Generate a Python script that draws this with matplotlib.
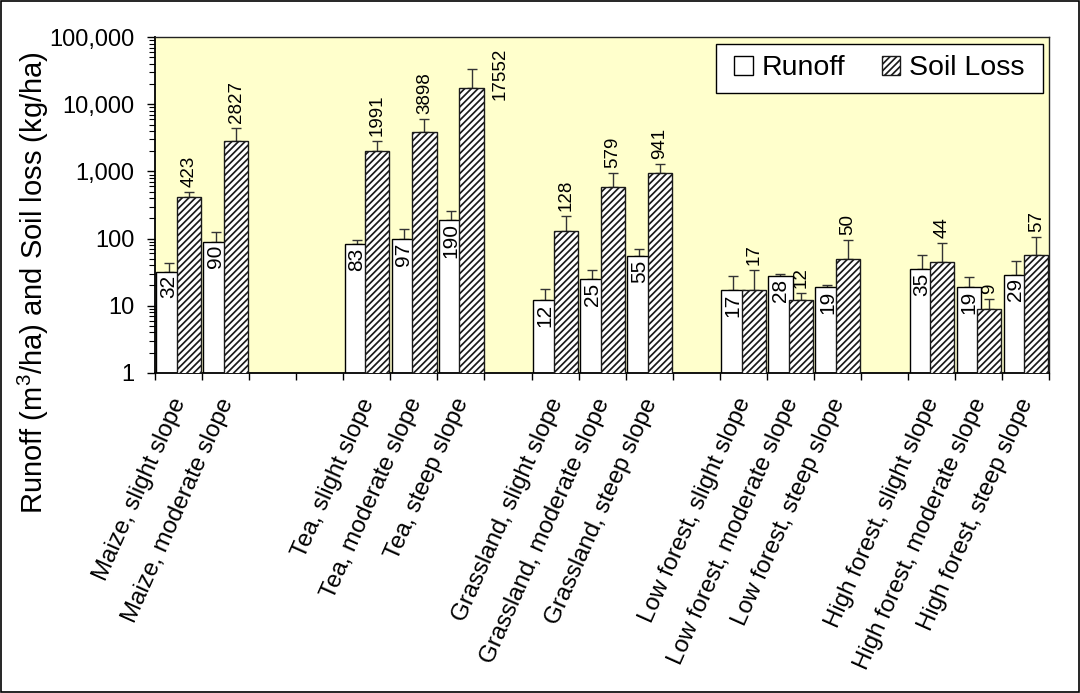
import matplotlib
matplotlib.use("Agg")
import matplotlib.pyplot as plt
import matplotlib.transforms as mtransforms
from matplotlib.patches import Patch, Rectangle
from matplotlib.ticker import FixedLocator, FuncFormatter, LogLocator, NullFormatter

plt.rcParams['font.family'] = ['Liberation Sans', 'DejaVu Sans']
plt.rcParams['mathtext.default'] = 'regular'
plt.rcParams['hatch.linewidth'] = 1.25

# ---------------- data ----------------
land_uses = ["Maize", "Tea", "Grassland", "Low forest", "High forest"]
slopes = ["slight slope", "moderate slope", "steep slope"]

# ordered land use x slope (None = not measured)
runoff = [32, 90, None, 83, 97, 190, 12, 25, 55, 17, 28, 19, 35, 19, 29]
runoff_err = [11, 36, None, 11, 42, 65, 5.5, 8.6, 16, 11, 1.8, 1.2, 21, 8, 18]
soil_loss = [423, 2827, None, 1991, 3898, 17552, 128, 579, 941, 17, 12, 50, 44, 9, 57]
soil_err = [79, 1590, None, 850, 2260, 16150, 89, 358, 340, 17.5, 3.6, 44, 42, 3.4, 49.5]

series_names = ["Runoff", "Soil Loss"]
y_ticks = [1, 10, 100, 1000, 10000, 100000]

# ---------------- layout ----------------
W, H = 1080, 693
fig = plt.figure(figsize=(W / 100, H / 100), dpi=100)
ax_l, ax_r, ax_t, ax_b = 155, 1049.3, 37.3, 372.7
ax = fig.add_axes([ax_l / W, 1 - ax_b / H, (ax_r - ax_l) / W, (ax_b - ax_t) / H])
ax.set_facecolor('#FFFFCC')

n_slots = len(land_uses) * (len(slopes) + 1) - 1
slot_pos, labels, r_vals, r_errs, s_vals, s_errs = [], [], [], [], [], []
k = 0
for gi, lu in enumerate(land_uses):
    for si, sl in enumerate(slopes):
        if runoff[k] is not None:
            slot_pos.append(gi * (len(slopes) + 1) + si)
            labels.append(f"{lu}, {sl}")
            r_vals.append(runoff[k]); r_errs.append(runoff_err[k])
            s_vals.append(soil_loss[k]); s_errs.append(soil_err[k])
        k += 1

bw = 0.515
r_left = [p + 0.03 for p in slot_pos]
s_left = [p + 0.467 for p in slot_pos]
r_ctr = [x + bw / 2 for x in r_left]
s_ctr = [x + bw / 2 for x in s_left]

ax.bar(r_left, r_vals, width=bw, align='edge', facecolor='white',
       edgecolor='black', linewidth=1.0, zorder=2)
ax.bar(s_left, s_vals, width=bw, align='edge', facecolor='white',
       edgecolor='#1a1a1a', hatch='/////', linewidth=1.0, zorder=3)

ax.errorbar(r_ctr, r_vals, yerr=[[0] * len(r_vals), r_errs], fmt='none',
            ecolor='#333333', elinewidth=1.0, capsize=3.6, capthick=1.0, zorder=1.5)
ax.errorbar(s_ctr, s_vals, yerr=[[0] * len(s_vals), s_errs], fmt='none',
            ecolor='#333333', elinewidth=1.0, capsize=3.6, capthick=1.0, zorder=2.5)

ax.set_yscale('log')
ax.set_ylim(y_ticks[0], y_ticks[-1])
ax.set_xlim(0, n_slots)

# value labels
for x, v in zip(r_ctr, r_vals):
    ax.annotate(f"{v}", xy=(x, v), xytext=(0, -2.5), textcoords='offset points',
                rotation=90, ha='center', va='top', fontsize=15, zorder=5)
ymax = y_ticks[-1]
for x, v, e in zip(s_ctr, s_vals, s_errs):
    if (v + e) * 4 > ymax:
        trans = mtransforms.blended_transform_factory(ax.transData, ax.transAxes)
        ax.text(x + 0.6, 0.968, f"{v}", transform=trans, rotation=90,
                ha='center', va='top', fontsize=13.5, zorder=5)
    else:
        ax.annotate(f"{v}", xy=(x, v + e), xytext=(0, 3.5), textcoords='offset points',
                    rotation=90, ha='center', va='bottom', fontsize=13.5, zorder=5)

# y axis
ax.yaxis.set_major_locator(FixedLocator(y_ticks))
ax.yaxis.set_major_formatter(FuncFormatter(lambda v, p: f"{v:,.0f}"))
ax.yaxis.set_minor_locator(LogLocator(base=10, subs=range(2, 10)))
ax.yaxis.set_minor_formatter(NullFormatter())
ax.tick_params(axis='y', which='major', direction='out', length=6, width=1,
               labelsize=17, pad=9)
ax.tick_params(axis='y', which='minor', direction='out', length=4.5, width=0.8)

# x axis: ticks at slot boundaries, labels rotated
ax.set_xticks(range(n_slots + 1))
ax.set_xticklabels([])
ax.tick_params(axis='x', which='major', direction='out', length=5, width=1)
ax.tick_params(axis='x', which='minor', length=0)
base = mtransforms.blended_transform_factory(ax.transData, ax.transAxes)
off = mtransforms.ScaledTranslation(-8 / 100, -22 / 100, fig.dpi_scale_trans)
for p, lab in zip(slot_pos, labels):
    ax.text(p + 0.5, 0, lab, transform=base + off, rotation=66,
            rotation_mode='anchor', ha='right', va='top', fontsize=17.3, clip_on=False)

for s in ['left', 'bottom']:
    ax.spines[s].set_linewidth(1.3)
    ax.spines[s].set_color('black')
for s in ['top', 'right']:
    ax.spines[s].set_linewidth(1.0)
    ax.spines[s].set_color('#222222')

fig.text(33 / W, 1 - 283 / H, 'Runoff (m$^3$/ha) and Soil loss (kg/ha)',
         rotation=90, ha='center', va='center', fontsize=21)

# legend: box drawn as a frame rectangle, entries placed inside
lb_l, lb_r, lb_t, lb_b = 715.7, 1042.7, 44.0, 92.7
to_ax = lambda px, py: ((px - ax_l) / (ax_r - ax_l), (ax_b - py) / (ax_b - ax_t))
x0, y0 = to_ax(lb_l, lb_b)
x1, y1 = to_ax(lb_r, lb_t)
ax.add_patch(Rectangle((x0, y0), x1 - x0, y1 - y0, transform=ax.transAxes,
                       facecolor='white', edgecolor='black', linewidth=1.0, zorder=9))
handles = [Patch(facecolor='white', edgecolor='black', linewidth=1.0),
           Patch(facecolor='white', edgecolor='#1a1a1a', hatch='/////', linewidth=1.0)]
leg = ax.legend(handles, series_names, ncol=2, loc='center',
                bbox_to_anchor=((x0 + x1) / 2, (y0 + y1) / 2), fontsize=20.5,
                frameon=False, handlelength=0.65, handleheight=0.65, handletextpad=0.3,
                columnspacing=1.3, borderpad=0.0)
leg.set_zorder(10)

fig.patches.append(Rectangle((0.0008, 0.0012), 0.9984, 0.9976, transform=fig.transFigure,
                             fill=False, edgecolor='black', linewidth=1.2))

fig.savefig('out.png', dpi=100, facecolor='white')
